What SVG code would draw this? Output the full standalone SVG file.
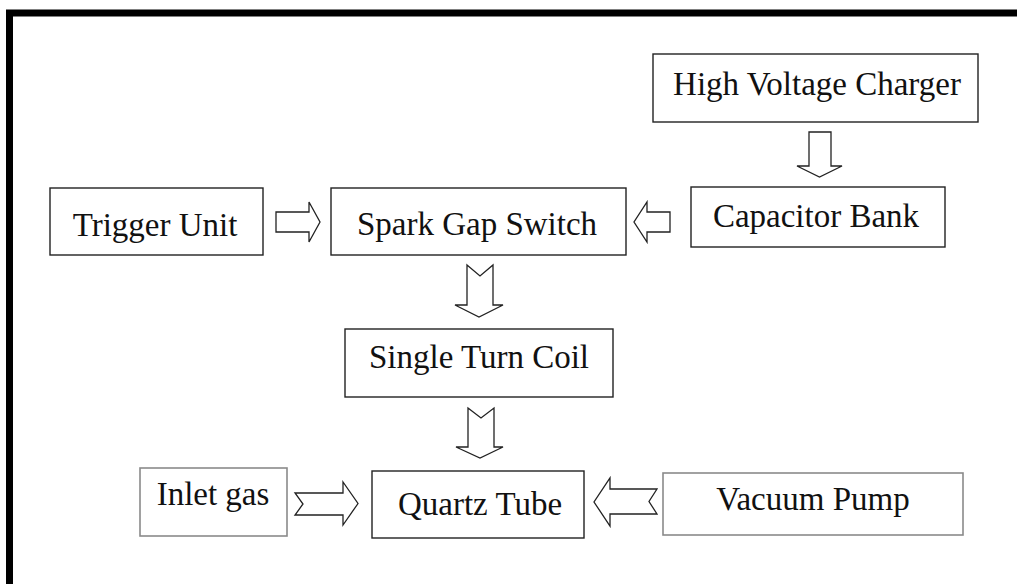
<svg xmlns="http://www.w3.org/2000/svg" width="1017" height="584" viewBox="0 0 1017 584">
<style>
.box{fill:#fff;stroke:#222;stroke-width:1.4}
.gbox{fill:#fff;stroke:#8a8a8a;stroke-width:1.6}
.lbl{font-family:"Liberation Serif","Times New Roman",serif;font-size:33px;fill:#111;text-anchor:middle}
.arr{fill:#fff;stroke:#222;stroke-width:1.3;stroke-linejoin:miter}
</style>
<rect width="1017" height="584" fill="#fff"/>
<path d="M9.5 590 V13 H1025" fill="none" stroke="#000" stroke-width="7"/>
<g id="hvc"><rect class="box" x="653" y="54" width="325" height="68"/><text class="lbl" x="817" y="95">High Voltage Charger</text></g>
<g id="capacitor"><rect class="box" x="691" y="187" width="254" height="60"/><text class="lbl" x="816" y="227">Capacitor Bank</text></g>
<g id="trigger"><rect class="box" x="50" y="188" width="213" height="67"/><text class="lbl" x="155" y="236">Trigger Unit</text></g>
<g id="spark"><rect class="box" x="331" y="188" width="295" height="67"/><text class="lbl" x="477" y="235">Spark Gap Switch</text></g>
<g id="coil"><rect class="box" x="345" y="329" width="268" height="68"/><text class="lbl" x="479" y="368">Single Turn Coil</text></g>
<g id="quartz"><rect class="box" x="372" y="471" width="212" height="67"/><text class="lbl" x="480" y="515">Quartz Tube</text></g>
<g id="inlet"><rect class="gbox" x="140" y="468" width="147" height="68"/><text class="lbl" x="213" y="505">Inlet gas</text></g>
<g id="vacuum"><rect class="gbox" x="663" y="473" width="300" height="62"/><text class="lbl" x="813" y="510">Vacuum Pump</text></g>
<g id="connectors">
<polygon class="arr" points="809,132 831,132 831,166 842,166 819.5,177 797,166 809,166"/>
<polygon class="arr" points="276,212 309,212 309,202 320,222 309,242 309,232 276,232"/>
<polygon class="arr" points="670,212 647,212 647,202 634,222 647,242 647,232 670,232"/>
<polygon class="arr" points="467,265 480,276 493,265 493,305 503,305 479,317 455,305 467,305"/>
<polygon class="arr" points="468,408 481,418 494,408 494,447 503,447 480,458 456,447 468,447"/>
<polygon class="arr" points="295,493 343,493 343,482 358,503.5 343,525 343,515 295,515 303,504"/>
<polygon class="arr" points="657,489 610,489 610,478 594,502 610,526 610,514 657,514 649,501.5"/>
</g>
</svg>
